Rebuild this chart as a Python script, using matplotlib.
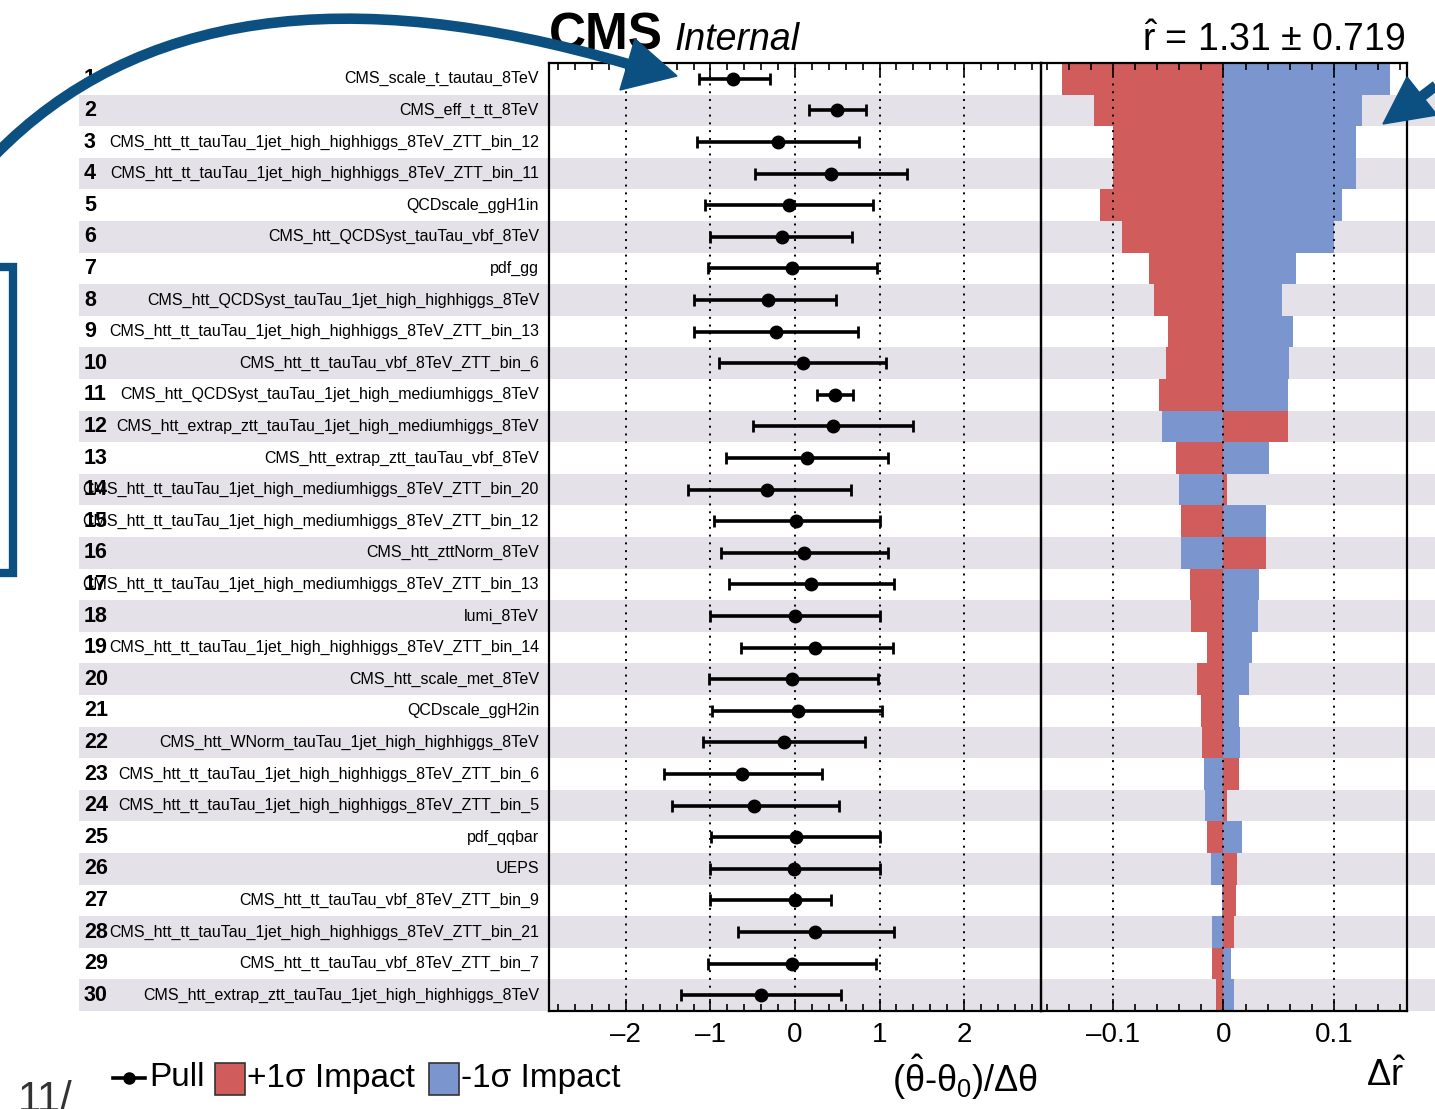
import numpy as np
import matplotlib.pyplot as plt
from matplotlib.patches import Rectangle, Polygon, PathPatch
from matplotlib.path import Path
from matplotlib.lines import Line2D
from matplotlib.ticker import MultipleLocator, FuncFormatter

W, H = 1435, 1109

names = [
    "CMS_scale_t_tautau_8TeV",
    "CMS_eff_t_tt_8TeV",
    "CMS_htt_tt_tauTau_1jet_high_highhiggs_8TeV_ZTT_bin_12",
    "CMS_htt_tt_tauTau_1jet_high_highhiggs_8TeV_ZTT_bin_11",
    "QCDscale_ggH1in",
    "CMS_htt_QCDSyst_tauTau_vbf_8TeV",
    "pdf_gg",
    "CMS_htt_QCDSyst_tauTau_1jet_high_highhiggs_8TeV",
    "CMS_htt_tt_tauTau_1jet_high_highhiggs_8TeV_ZTT_bin_13",
    "CMS_htt_tt_tauTau_vbf_8TeV_ZTT_bin_6",
    "CMS_htt_QCDSyst_tauTau_1jet_high_mediumhiggs_8TeV",
    "CMS_htt_extrap_ztt_tauTau_1jet_high_mediumhiggs_8TeV",
    "CMS_htt_extrap_ztt_tauTau_vbf_8TeV",
    "CMS_htt_tt_tauTau_1jet_high_mediumhiggs_8TeV_ZTT_bin_20",
    "CMS_htt_tt_tauTau_1jet_high_mediumhiggs_8TeV_ZTT_bin_12",
    "CMS_htt_zttNorm_8TeV",
    "CMS_htt_tt_tauTau_1jet_high_mediumhiggs_8TeV_ZTT_bin_13",
    "lumi_8TeV",
    "CMS_htt_tt_tauTau_1jet_high_highhiggs_8TeV_ZTT_bin_14",
    "CMS_htt_scale_met_8TeV",
    "QCDscale_ggH2in",
    "CMS_htt_WNorm_tauTau_1jet_high_highhiggs_8TeV",
    "CMS_htt_tt_tauTau_1jet_high_highhiggs_8TeV_ZTT_bin_6",
    "CMS_htt_tt_tauTau_1jet_high_highhiggs_8TeV_ZTT_bin_5",
    "pdf_qqbar",
    "UEPS",
    "CMS_htt_tt_tauTau_vbf_8TeV_ZTT_bin_9",
    "CMS_htt_tt_tauTau_1jet_high_highhiggs_8TeV_ZTT_bin_21",
    "CMS_htt_tt_tauTau_vbf_8TeV_ZTT_bin_7",
    "CMS_htt_extrap_ztt_tauTau_1jet_high_highhiggs_8TeV",
]

# pull and its error band (lo, hi)
pull = [-0.73, 0.50, -0.20, 0.42, -0.07, -0.15, -0.03, -0.32, -0.22, 0.09,
        0.47, 0.45, 0.14, -0.33, 0.01, 0.11, 0.19, 0.00, 0.24, -0.03,
        0.03, -0.13, -0.63, -0.49, 0.01, -0.01, 0.00, 0.24, -0.04, -0.40]
pull_lo = [-1.13, 0.17, -1.16, -0.47, -1.06, -1.00, -1.03, -1.19, -1.19, -0.90,
           0.26, -0.50, -0.82, -1.26, -0.96, -0.87, -0.78, -1.00, -0.64, -1.02,
           -0.98, -1.09, -1.55, -1.46, -0.99, -1.00, -1.00, -0.67, -1.03, -1.35]
pull_hi = [-0.30, 0.84, 0.76, 1.33, 0.92, 0.68, 0.97, 0.49, 0.74, 1.08,
           0.69, 1.40, 1.10, 0.66, 1.00, 1.10, 1.17, 1.00, 1.16, 0.98,
           1.03, 0.83, 0.32, 0.52, 1.01, 1.00, 0.43, 1.17, 0.96, 0.55]

# impacts on r
impact_up = [-0.146, -0.117, -0.100, -0.100, -0.112, -0.092, -0.067, -0.063, -0.050, -0.052,
             -0.058, 0.0586, -0.0426, 0.003, -0.038, 0.0385, -0.030, -0.029, -0.015, -0.0235,
             -0.020, -0.019, 0.0137, 0.003, -0.015, 0.012, 0.011, 0.0095, -0.010, -0.007]
impact_down = [0.151, 0.125, 0.120, 0.120, 0.107, 0.0995, 0.066, 0.053, 0.063, 0.059,
               0.058, -0.0556, 0.0415, -0.040, 0.0385, -0.038, 0.032, 0.031, 0.026, 0.0235,
               0.014, 0.015, -0.0178, -0.0163, 0.017, -0.0116, -0.001, -0.0106, 0.007, 0.0095]

red = "#d05c5c"
blue = "#7b96ce"
band = "#e4e1e8"
anno = "#0c5082"

plt.rcParams['font.family'] = ['Liberation Sans', 'DejaVu Sans']
plt.rcParams['mathtext.fontset'] = 'custom'
plt.rcParams['mathtext.rm'] = 'Liberation Sans'
plt.rcParams['mathtext.it'] = 'Liberation Sans:italic'
plt.rcParams['mathtext.bf'] = 'Liberation Sans:bold'

fig = plt.figure(figsize=(W / 100, H / 100), dpi=100)


def fx(x):
    return x / W


def fy(y):
    return 1 - y / H


top, bot = 63, 1011
n = len(names)
rows = np.arange(n)

# background bands and row labels
bg = fig.add_axes([fx(79), fy(bot), 1 - fx(79), (bot - top) / H], zorder=0)
bg.set_xlim(79, W)
bg.set_ylim(n - 0.5, -0.5)
bg.axis('off')
for i in rows:
    if i % 2 == 1:
        bg.axhspan(i - 0.5, i + 0.5, color=band, lw=0)
    bg.text(84, i, str(i + 1), fontsize=15.5, fontweight='bold', va='center', ha='left')
    bg.text(539, i, names[i], fontsize=11.5, va='center', ha='right')

# pulls panel
ax1 = fig.add_axes([fx(549), fy(bot), fx(1041) - fx(549), (bot - top) / H], zorder=2)
ax1.set_facecolor('none')
ax1.set_xlim(-2.91, 2.91)
ax1.set_ylim(n - 0.5, -0.5)
p = np.array(pull)
ax1.errorbar(p, rows, xerr=[p - np.array(pull_lo), np.array(pull_hi) - p], fmt='o',
             color='k', ms=9, elinewidth=2.6, capsize=4, capthick=2, zorder=3)
ax1.xaxis.set_major_locator(MultipleLocator(1))
ax1.xaxis.set_minor_locator(MultipleLocator(0.2))

# impacts panel
ax2 = fig.add_axes([fx(1041), fy(bot), fx(1406.5) - fx(1041), (bot - top) / H], zorder=2)
ax2.set_facecolor('none')
ax2.set_xlim(-0.165, 0.1655)
ax2.set_ylim(n - 0.5, -0.5)
ax2.barh(rows, impact_down, height=1.0, color=blue, lw=0, zorder=1)
ax2.barh(rows, impact_up, height=1.0, color=red, lw=0, zorder=1)
ax2.xaxis.set_major_locator(MultipleLocator(0.1))
ax2.xaxis.set_minor_locator(MultipleLocator(0.02))

fmt = FuncFormatter(lambda v, _: ('%g' % round(v, 3)).replace('-', '\u2013'))
for ax in (ax1, ax2):
    ax.xaxis.set_major_formatter(fmt)
    ax.grid(axis='x', which='major', color='k', ls=(0, (1, 3)), lw=1.4, zorder=2)
    ax.set_axisbelow(False)
    ax.set_yticks([])
    ax.tick_params(axis='x', which='both', direction='in', top=True, bottom=True,
                   labelsize=20, pad=8, width=1.2)
    ax.tick_params(axis='x', which='major', length=9)
    ax.tick_params(axis='x', which='minor', length=5)
    for s in ax.spines.values():
        s.set_linewidth(1.6)

# titles
fig.text(fx(549), fy(49), "CMS", fontsize=37, fontweight='bold', va='baseline', ha='left')
fig.text(fx(675), fy(50), "Internal", fontsize=27, fontstyle='italic', va='baseline', ha='left')
fig.text(fx(1406), fy(51), r"$\mathrm{\hat{r}}$ = 1.31 " + "\u00b1" + " 0.719",
         fontsize=27, va='baseline', ha='right')

# axis titles
fig.text(fx(1038), fy(1077), r"$\mathrm{(\hat{\theta}}$-$\mathrm{\theta_{0})/\Delta\theta}$",
         fontsize=26, va='center', ha='right')
fig.text(fx(1406), fy(1077), r"$\mathrm{\Delta\hat{r}}$", fontsize=26, va='center', ha='right')

# legend
ly = 1078
fig.add_artist(Line2D([fx(113), fx(145)], [fy(ly), fy(ly)], color='k', lw=2.6,
                      transform=fig.transFigure))
fig.add_artist(Line2D([fx(129)], [fy(ly)], color='k', marker='o', ms=8,
                      transform=fig.transFigure))
fig.text(fx(149), fy(ly), "Pull", fontsize=24, va='center', ha='left')
fig.add_artist(Rectangle((fx(215), fy(1095)), fx(30), 32 / H, facecolor=red,
                         edgecolor='#333333', lw=1.2, transform=fig.transFigure))
fig.text(fx(247), fy(ly), "+1\u03c3 Impact", fontsize=24, va='center', ha='left')
fig.add_artist(Rectangle((fx(429), fy(1095)), fx(30), 32 / H, facecolor=blue,
                         edgecolor='#333333', lw=1.2, transform=fig.transFigure))
fig.text(fx(461), fy(ly), "-1\u03c3 Impact", fontsize=24, va='center', ha='left')

# slide number
fig.text(fx(18), fy(1080), "11/", fontsize=30, va='top', ha='left', color='#333333')

# annotations drawn on the slide
def pt(x, y):
    return (fx(x), fy(y))


curve = Path([pt(-5, 155), pt(205, -60), pt(628, 64)], [Path.MOVETO, Path.CURVE3, Path.CURVE3])
fig.add_artist(PathPatch(curve, fill=False, edgecolor=anno, lw=7.6, capstyle='butt',
                         transform=fig.transFigure, zorder=10))
fig.add_artist(Polygon([pt(677, 76), pt(620, 90), pt(635, 39)], closed=True, color=anno,
                       transform=fig.transFigure, zorder=10))
fig.add_artist(Line2D([fx(1480), fx(1421)], [fy(52), fy(97)], color=anno, lw=7.6,
                      solid_capstyle='butt', transform=fig.transFigure, zorder=10))
fig.add_artist(Polygon([pt(1383, 124), pt(1407, 77), pt(1437, 115)], closed=True, color=anno,
                       transform=fig.transFigure, zorder=10))
fig.add_artist(Line2D([fx(-5), fx(13), fx(13), fx(-5)], [fy(267), fy(267), fy(573), fy(573)],
                      color=anno, lw=6, solid_joinstyle='miter', transform=fig.transFigure,
                      zorder=10))

fig.savefig("out.png", dpi=100)
